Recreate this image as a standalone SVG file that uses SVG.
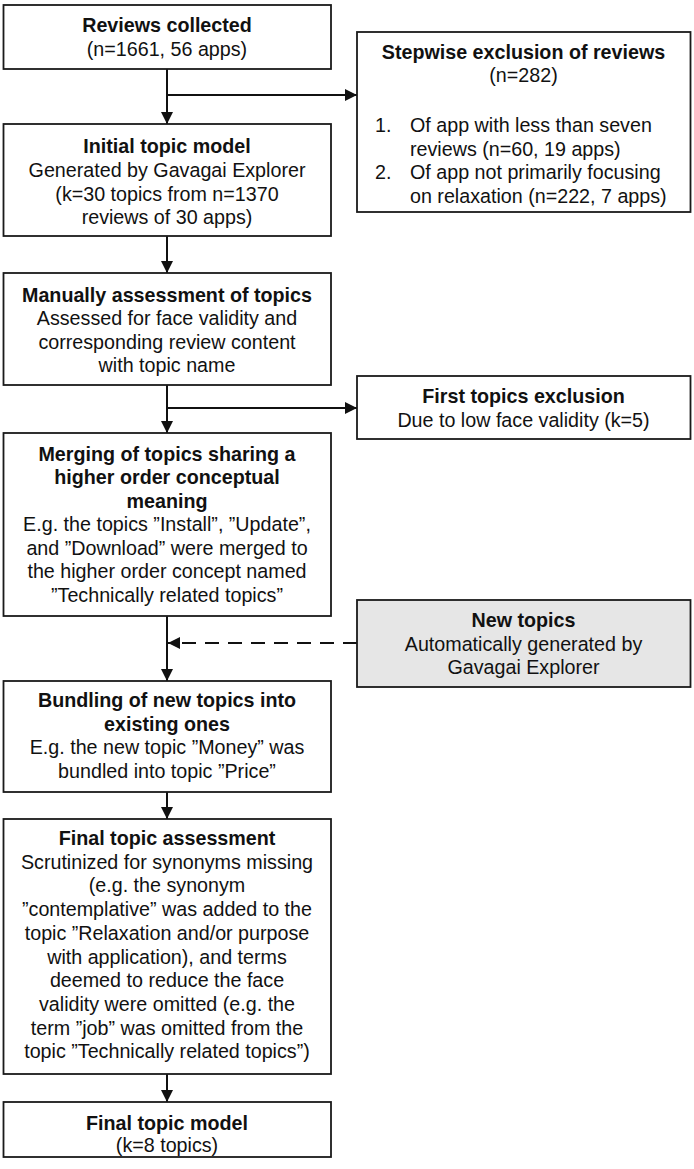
<svg xmlns="http://www.w3.org/2000/svg" width="694" height="1169" viewBox="0 0 694 1169">
<style>
.box{fill:#fff;stroke:#1a1a1a;stroke-width:1.8}
.grey{fill:#e6e6e6}
text{font-family:"Liberation Sans",Arial,sans-serif;font-size:19.7px;fill:#111}
.c{text-anchor:middle}
.b{font-weight:bold}
.ln{fill:none;stroke:#111;stroke-width:2}
.dash{stroke-dasharray:14 9}
</style>
<defs>
<marker id="ah" markerUnits="userSpaceOnUse" markerWidth="12" markerHeight="12" refX="12" refY="6" orient="auto">
<path d="M0,0 L12,6 L0,12 Z" fill="#111"/>
</marker>
</defs>
<g id="connectors">
<line class="ln" x1="167" y1="69" x2="167" y2="124" marker-end="url(#ah)"/>
<line class="ln" x1="167" y1="95" x2="357" y2="95" marker-end="url(#ah)"/>
<line class="ln" x1="167" y1="236" x2="167" y2="273" marker-end="url(#ah)"/>
<line class="ln" x1="167" y1="385" x2="167" y2="433" marker-end="url(#ah)"/>
<line class="ln" x1="167" y1="408" x2="357" y2="408" marker-end="url(#ah)"/>
<line class="ln" x1="167" y1="616" x2="167" y2="681" marker-end="url(#ah)"/>
<line class="ln dash" x1="357" y1="643" x2="168" y2="643" marker-end="url(#ah)"/>
<line class="ln" x1="167" y1="792" x2="167" y2="819" marker-end="url(#ah)"/>
<line class="ln" x1="167" y1="1074" x2="167" y2="1102" marker-end="url(#ah)"/>
</g>
<g id="reviews-collected">
<rect class="box" x="3.5" y="5" width="327.5" height="64"/>
<text class="c b" x="167" y="31.5">Reviews collected</text>
<text class="c" x="167" y="55.5">(n=1661, 56 apps)</text>
</g>
<g id="stepwise-exclusion">
<rect class="box" x="357" y="32" width="333.5" height="180"/>
<text class="c b" x="523.5" y="59">Stepwise exclusion of reviews</text>
<text class="c" x="523.5" y="82">(n=282)</text>
<text x="375" y="132">1.</text>
<text x="410" y="132">Of app with less than seven</text>
<text x="410" y="155.5">reviews (n=60, 19 apps)</text>
<text x="375" y="179">2.</text>
<text x="410" y="179">Of app not primarily focusing</text>
<text x="410" y="202.5">on relaxation (n=222, 7 apps)</text>
</g>
<g id="initial-topic-model">
<rect class="box" x="3.5" y="124" width="327.5" height="112"/>
<text class="c b" x="167" y="153">Initial topic model</text>
<text class="c" x="167" y="177">Generated by Gavagai Explorer</text>
<text class="c" x="167" y="200.5">(k=30 topics from n=1370</text>
<text class="c" x="167" y="224">reviews of 30 apps)</text>
</g>
<g id="manual-assessment">
<rect class="box" x="3.5" y="273" width="327.5" height="112"/>
<text class="c b" x="167" y="301.5">Manually assessment of topics</text>
<text class="c" x="167" y="325">Assessed for face validity and</text>
<text class="c" x="167" y="348.5">corresponding review content</text>
<text class="c" x="167" y="372">with topic name</text>
</g>
<g id="first-topics-exclusion">
<rect class="box" x="357" y="376" width="333.5" height="63"/>
<text class="c b" x="523.5" y="403">First topics exclusion</text>
<text class="c" x="523.5" y="427">Due to low face validity (k=5)</text>
</g>
<g id="merging">
<rect class="box" x="3.5" y="433" width="327.5" height="183"/>
<text class="c b" x="167" y="460.5">Merging of topics sharing a</text>
<text class="c b" x="167" y="484">higher order conceptual</text>
<text class="c b" x="167" y="507.5">meaning</text>
<text class="c" x="167" y="531">E.g. the topics ”Install”, ”Update”,</text>
<text class="c" x="167" y="554.5">and ”Download” were merged to</text>
<text class="c" x="167" y="578">the higher order concept named</text>
<text class="c" x="167" y="601.5">”Technically related topics”</text>
</g>
<g id="new-topics">
<rect class="box grey" x="357" y="600" width="333.5" height="87"/>
<text class="c b" x="523.5" y="627">New topics</text>
<text class="c" x="523.5" y="650.5">Automatically generated by</text>
<text class="c" x="523.5" y="674">Gavagai Explorer</text>
</g>
<g id="bundling">
<rect class="box" x="3.5" y="681" width="327.5" height="111"/>
<text class="c b" x="167" y="707">Bundling of new topics into</text>
<text class="c b" x="167" y="730.5">existing ones</text>
<text class="c" x="167" y="754">E.g. the new topic ”Money” was</text>
<text class="c" x="167" y="777.5">bundled into topic ”Price”</text>
</g>
<g id="final-assessment">
<rect class="box" x="3.5" y="819" width="327.5" height="255"/>
<text class="c b" x="167" y="845">Final topic assessment</text>
<text class="c" x="167" y="868.7">Scrutinized for synonyms missing</text>
<text class="c" x="167" y="892.4">(e.g. the synonym</text>
<text class="c" x="167" y="916.1">”contemplative” was added to the</text>
<text class="c" x="167" y="939.8">topic ”Relaxation and/or purpose</text>
<text class="c" x="167" y="963.5">with application), and terms</text>
<text class="c" x="167" y="987.2">deemed to reduce the face</text>
<text class="c" x="167" y="1010.9">validity were omitted (e.g. the</text>
<text class="c" x="167" y="1034.6">term ”job” was omitted from the</text>
<text class="c" x="167" y="1058.3">topic ”Technically related topics”)</text>
</g>
<g id="final-topic-model">
<rect class="box" x="3.5" y="1102" width="327.5" height="55"/>
<text class="c b" x="167" y="1129.5">Final topic model</text>
<text class="c" x="167" y="1152">(k=8 topics)</text>
</g>
</svg>
